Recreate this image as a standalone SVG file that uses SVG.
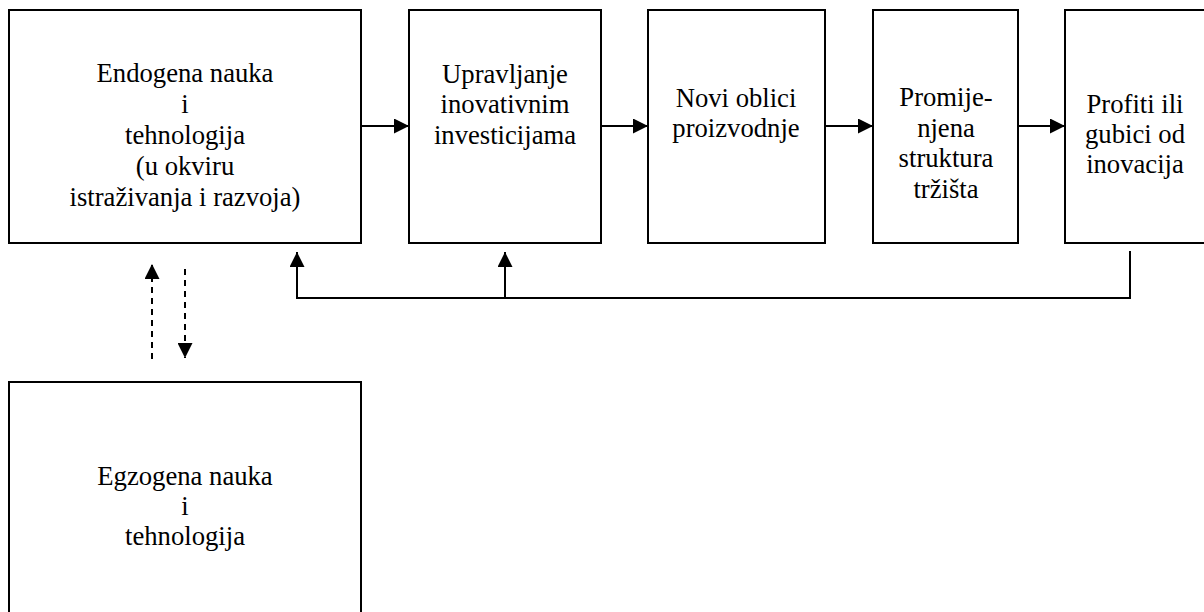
<svg xmlns="http://www.w3.org/2000/svg" width="1204" height="612" viewBox="0 0 1204 612">
<style>
.box{fill:#fff;stroke:#000;stroke-width:2}
.c{fill:none;stroke:#000;stroke-width:2}
.d{fill:none;stroke:#000;stroke-width:2;stroke-dasharray:6 5}
</style>
<defs>
<marker id="ah" viewBox="0 0 15 15" refX="15" refY="7.5" markerWidth="15" markerHeight="15" markerUnits="userSpaceOnUse" orient="auto">
<path d="M0,0 L15,7.5 L0,15 Z" fill="#000"/>
</marker>
</defs>
<rect width="1204" height="612" fill="#fff"/>
<g font-family="Liberation Serif, serif" font-size="26.67" text-anchor="middle" fill="#000">
<g id="n-endogena">
<rect class="box" x="9" y="10" width="352" height="233"/>
<text x="185" y="82">Endogena nauka</text>
<text x="185" y="113">i</text>
<text x="185" y="144">tehnologija</text>
<text x="185" y="175">(u okviru</text>
<text x="185" y="206">istraživanja i razvoja)</text>
</g>
<g id="n-upravljanje">
<rect class="box" x="409" y="10" width="192" height="233"/>
<text x="505" y="83">Upravljanje</text>
<text x="505" y="113">inovativnim</text>
<text x="505" y="144">investicijama</text>
</g>
<g id="n-novi">
<rect class="box" x="648" y="10" width="177" height="233"/>
<text x="736" y="107">Novi oblici</text>
<text x="736" y="137">proizvodnje</text>
</g>
<g id="n-promijenjena">
<rect class="box" x="873" y="10" width="145" height="233"/>
<text x="946" y="106">Promije-</text>
<text x="946" y="137">njena</text>
<text x="946" y="167">struktura</text>
<text x="946" y="198">tržišta</text>
</g>
<g id="n-profiti">
<rect class="box" x="1065" y="10" width="141" height="233"/>
<text x="1135" y="113">Profiti ili</text>
<text x="1135" y="143">gubici od</text>
<text x="1135" y="173">inovacija</text>
</g>
<g id="n-egzogena">
<rect class="box" x="9" y="382" width="352" height="240"/>
<text x="185" y="485">Egzogena nauka</text>
<text x="185" y="515">i</text>
<text x="185" y="545">tehnologija</text>
</g>
</g>
<g id="connectors">
<line class="c" x1="361" y1="126" x2="409" y2="126" marker-end="url(#ah)"/>
<line class="c" x1="601" y1="126" x2="648" y2="126" marker-end="url(#ah)"/>
<line class="c" x1="825" y1="126" x2="873" y2="126" marker-end="url(#ah)"/>
<line class="c" x1="1018" y1="126" x2="1065" y2="126" marker-end="url(#ah)"/>
<polyline class="c" points="1130,251 1130,298 297,298 297,252" marker-end="url(#ah)"/>
<line class="c" x1="505" y1="298" x2="505" y2="252" marker-end="url(#ah)"/>
<line class="d" x1="152" y1="359" x2="152" y2="264" marker-end="url(#ah)"/>
<line class="d" x1="185" y1="269" x2="185" y2="358" marker-end="url(#ah)"/>
</g>
</svg>
